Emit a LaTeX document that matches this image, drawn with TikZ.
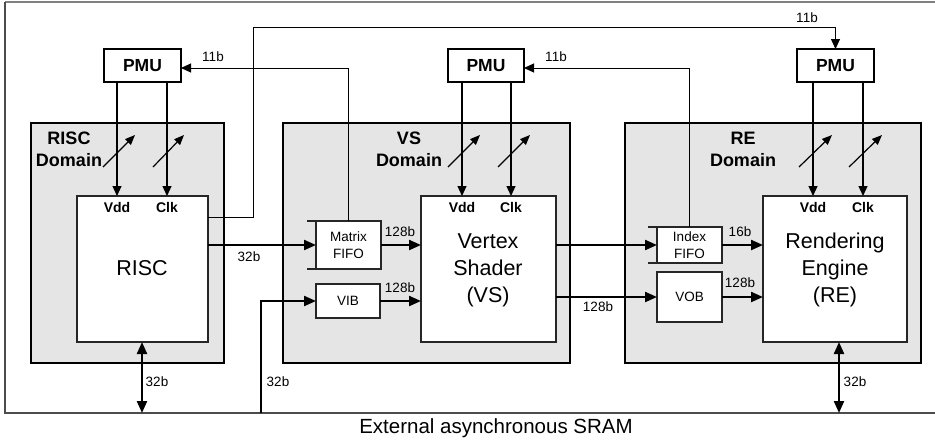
\documentclass[tikz,border=0pt]{standalone}
\usepackage{fontspec}
\setmainfont{Liberation Sans}
\usetikzlibrary{arrows.meta}
\begin{document}
\begin{tikzpicture}[x=1pt,y=-1pt,
  dombox/.style={draw=black, line width=2pt, fill=gray!20, inner sep=0pt, outer sep=0pt, anchor=north west},
  unitbox/.style={draw=black!85, line width=1.3pt, fill=white, inner sep=0pt, outer sep=0pt, anchor=north west, align=center},
  smallbox/.style={draw=black!85, line width=1.2pt, fill=white, inner sep=0pt, outer sep=0pt, anchor=north west, align=center, font=\fontsize{13.5}{17}\selectfont},
  pmubox/.style={draw=black, line width=1.8pt, fill=white, inner sep=0pt, outer sep=0pt, anchor=north west, font=\fontsize{17.5}{20}\selectfont\bfseries},
  domlabel/.style={align=center, inner sep=0pt, font=\fontsize{18}{22}\selectfont\bfseries},
  pinlabel/.style={inner sep=0pt, font=\fontsize{14}{16}\selectfont\bfseries},
  biglabel/.style={align=center, inner sep=0pt, font=\fontsize{21.5}{27}\selectfont},
  buslabel/.style={inner sep=0pt, font=\fontsize{13.5}{16}\selectfont},
  data/.style={line width=2.2pt, -{Triangle[length=12pt,width=10pt]}},
  bidata/.style={line width=2.2pt, {Triangle[length=12pt,width=10pt]}-{Triangle[length=12pt,width=10pt]}},
  pwr/.style={line width=1.2pt, -{Triangle[length=10pt,width=9pt]}},
  ctl/.style={line width=1pt, -{Triangle[length=10pt,width=9pt]}},
  knob/.style={line width=1.2pt, -{Triangle[length=10pt,width=8pt]}},
  fifotick/.style={draw=black!85, line width=1.2pt}
]
\useasboundingbox (0,0) rectangle (935,445);

% outer frame (SRAM boundary)
\draw[gray, line width=1.5pt] (5,2) -- (940,2);
\draw[black!70, line width=1.3pt] (5,2) -- (5,413) -- (940,413);

% domains
\node[dombox, minimum width=193pt, minimum height=240pt] (riscd) at (31,123) {};
\node[dombox, minimum width=287pt, minimum height=240pt] (vsd) at (283,123) {};
\node[dombox, minimum width=296pt, minimum height=240pt] (red) at (625,123) {};

\node[domlabel] (riscdl) at (69,149) {RISC\\Domain};
\node[domlabel] (vsdl) at (409,149) {VS\\Domain};
\node[domlabel] (redl) at (743,149) {RE\\Domain};

% main units
\node[unitbox, minimum width=131pt, minimum height=146pt] (risc) at (77,196) {};
\node[unitbox, minimum width=135pt, minimum height=146pt] (vs) at (421,196) {};
\node[unitbox, minimum width=144pt, minimum height=146pt] (re) at (763,196) {};

\node[biglabel] (risct) at (142,268) {RISC};
\node[biglabel] (vst) at (488,270) {Vertex\\Shader\\(VS)};
\node[biglabel] (ret) at (835,270) {Rendering\\Engine\\(RE)};

% PMUs
\node[pmubox, minimum width=77pt, minimum height=33pt] (pmu1) at (104,49) {PMU};
\node[pmubox, minimum width=76pt, minimum height=33pt] (pmu2) at (448,49) {PMU};
\node[pmubox, minimum width=77pt, minimum height=33pt] (pmu3) at (797,49) {PMU};

% buffers
\node[smallbox, minimum width=65pt, minimum height=48pt] (mfifo) at (316,221) {Matrix\\FIFO};
\node[smallbox, minimum width=64pt, minimum height=34pt] (vib) at (316,284) {VIB};
\node[smallbox, minimum width=65pt, minimum height=36pt] (ififo) at (657,227) {Index\\FIFO};
\node[smallbox, minimum width=65pt, minimum height=50pt] (vob) at (657,272) {VOB};

\draw[fifotick] ([xshift=-9pt]mfifo.north west) -- (mfifo.north west);
\draw[fifotick] ([xshift=-9pt]mfifo.south west) -- (mfifo.south west);
\draw[fifotick] ([xshift=-9pt]ififo.north west) -- (ififo.north west);
\draw[fifotick] ([xshift=-9pt]ififo.south west) -- (ififo.south west);

% Vdd / Clk pins
\node[pinlabel] (vdd1) at (117,207) {Vdd};
\node[pinlabel] (clk1) at (167,207) {Clk};
\node[pinlabel] (vdd2) at (462,207) {Vdd};
\node[pinlabel] (clk2) at (511,207) {Clk};
\node[pinlabel] (vdd3) at (813,207) {Vdd};
\node[pinlabel] (clk3) at (863,207) {Clk};

\draw[pwr] (pmu1.south -| vdd1) -- (risc.north -| vdd1);
\draw[pwr] (pmu1.south -| clk1) -- (risc.north -| clk1);
\draw[pwr] (pmu2.south -| vdd2) -- (vs.north -| vdd2);
\draw[pwr] (pmu2.south -| clk2) -- (vs.north -| clk2);
\draw[pwr] (pmu3.south -| vdd3) -- (re.north -| vdd3);
\draw[pwr] (pmu3.south -| clk3) -- (re.north -| clk3);

% adjustable symbols
\draw[knob] (103,167) -- (135,135);
\draw[knob] (153,167) -- (184,135);
\draw[knob] (448,167) -- (480,135);
\draw[knob] (498,167) -- (530,135);
\draw[knob] (799,167) -- (832,135);
\draw[knob] (849,167) -- (882,135);

% 11b control paths
\coordinate (turn) at (253,27);
\draw[ctl] ([yshift=-21pt]risc.north east) -| (turn) -| (pmu3.north);
\draw[ctl] (mfifo.north) |- ([yshift=-2.5pt]pmu1.east);
\draw[ctl] (ififo.north) |- ([yshift=-2.5pt]pmu2.east);
\node[buslabel] (l11a) at (213,57) {11b};
\node[buslabel] (l11b) at (556,57) {11b};
\node[buslabel] (l11c) at (807,18) {11b};

% data paths
\draw[data] (risc.east |- mfifo.west) -- (mfifo.west);
\draw[data] (mfifo.east) -- (vs.west |- mfifo.east);
\draw[data] (vib.east) -- (vs.west |- vib.east);
\draw[data] (vs.east |- ififo.west) -- (ififo.west);
\draw[data] (vs.east |- vob.west) -- (vob.west);
\draw[data] (ififo.east) -- (re.west |- ififo.east);
\draw[data] (vob.east) -- (re.west |- vob.east);

\node[buslabel] (l32a) at (249,257) {32b};
\node[buslabel] (l128a) at (400,232) {128b};
\node[buslabel] (l128b) at (400,288) {128b};
\node[buslabel] (l128c) at (598,307) {128b};
\node[buslabel] (l16) at (740,232) {16b};
\node[buslabel] (l128d) at (740,283) {128b};

% SRAM connections
\coordinate (sr1) at (142,413);
\coordinate (sr2) at (261,413);
\coordinate (sr3) at (839,413);
\draw[bidata] (risc.south -| sr1) -- (sr1);
\draw[bidata] (re.south -| sr3) -- (sr3);
\draw[data] (sr2) |- (vib.west);
\node[buslabel] (l32b) at (157,382) {32b};
\node[buslabel] (l32c) at (278,382) {32b};
\node[buslabel] (l32d) at (855,382) {32b};

\node[inner sep=0pt, font=\fontsize{20.5}{24}\selectfont] (sram) at (496,428) {External asynchronous SRAM};
\end{tikzpicture}
\end{document}
